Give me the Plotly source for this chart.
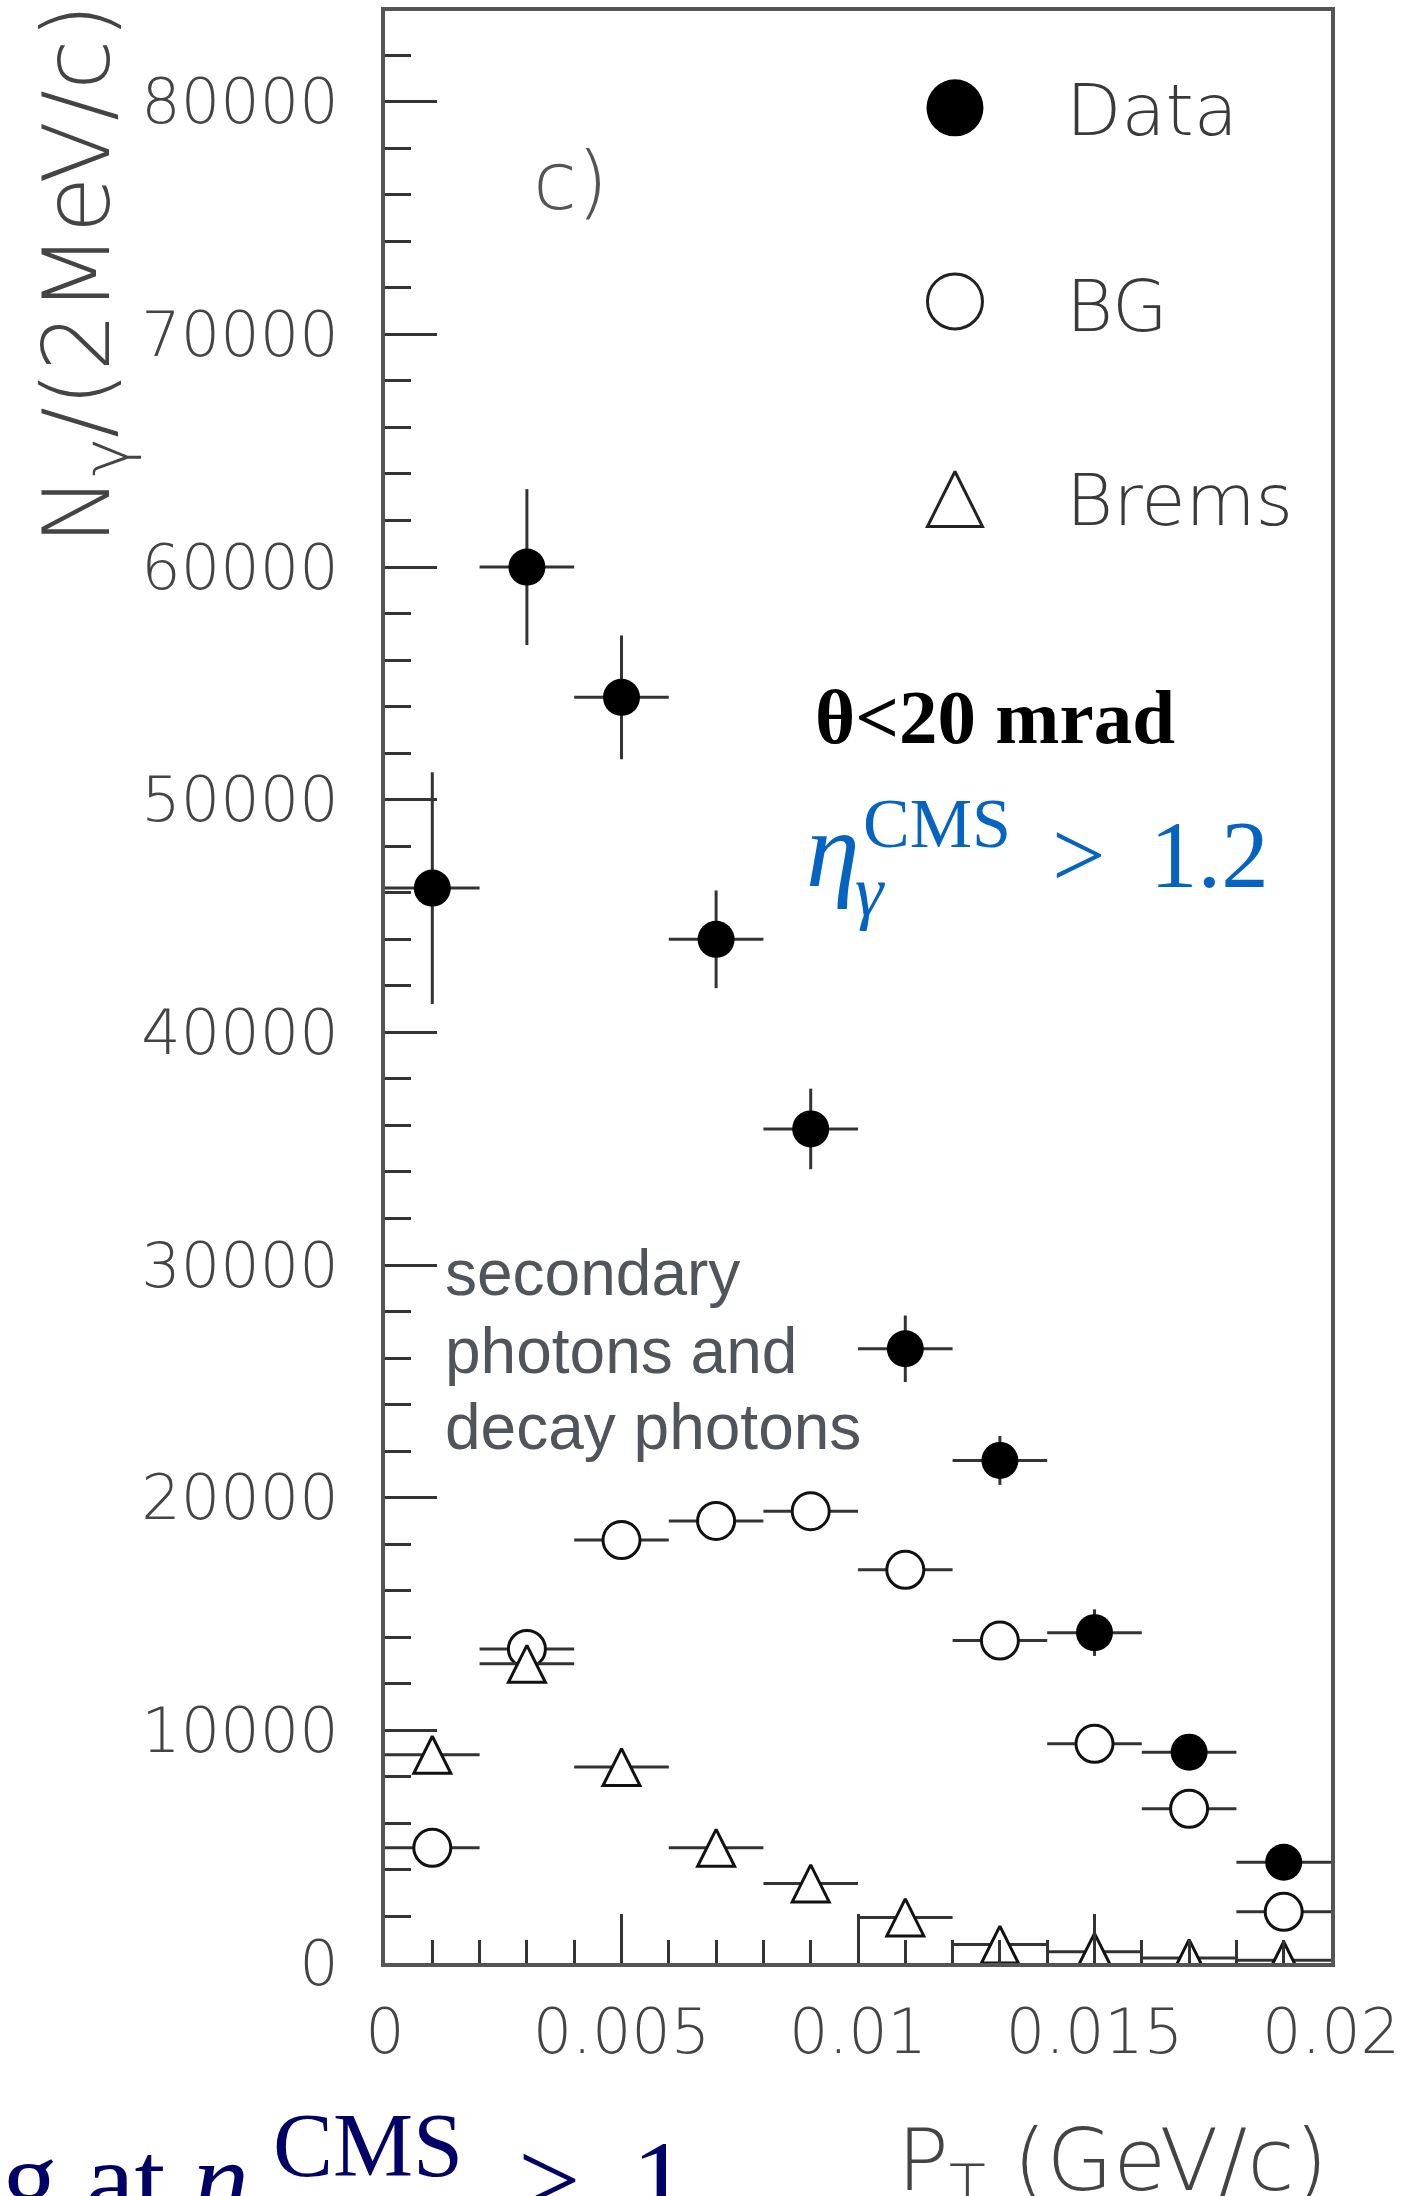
import plotly.graph_objects as go

# ---- measured photon spectrum, theta < 20 mrad ----
pt_centers = [0.001, 0.003, 0.005, 0.007, 0.009, 0.011, 0.013, 0.015, 0.017, 0.019]
pt_half_bin = 0.001

data_counts = [46200, 60000, 54400, 44000, 35850, 26400, 21600, 14200, 9060, 4330]
data_errors = [4980, 3350, 2660, 2100, 1730, 1430, 1050, 1000, 700, 500]
bg_counts = [4950, 13500, 18180, 19000, 19420, 16900, 13860, 9420, 6630, 2200]
brems_counts = [8950, 12860, 8420, 4950, 3420, 1960, 790, 480, 210, 120]

x_tick_vals = [0, 0.005, 0.01, 0.015, 0.02]
x_tick_text = ["0", "0.005", "0.01", "0.015", "0.02"]
y_tick_vals = [0, 10000, 20000, 30000, 40000, 50000, 60000, 70000, 80000]
y_tick_text = ["0", "10000", "20000", "30000", "40000", "50000", "60000", "70000", "80000"]

legend_names = ["Data", "BG", "Brems"]

# ---- page geometry (pixels) ----
W, H = 1409, 2196
PL, PR, PT, PB = 385, 1331, 7, 1963

DEJAVU = "DejaVu Sans"
SERIF = "Liberation Serif"
SANS = "Liberation Sans"
ASC = {DEJAVU: 0.928, SERIF: 0.891, SANS: 0.905}

INK = "#333333"
LABEL = "#444444"


def px(X):
    return (X - PL) / (PR - PL)


def py(Y):
    return (PB - Y) / (PB - PT)


def text_at(text, X, base, size, family, color, anchor="left", weight="normal", **kw):
    """Annotation whose first glyph starts (or ends) at X with its baseline at `base`."""
    top = base - ASC[family] * size - 2
    xx = X - 2 if anchor == "left" else X + 2
    return dict(text=text, x=px(xx), y=py(top), xref="paper", yref="paper",
                xanchor=anchor, yanchor="top", showarrow=False,
                font=dict(family=family, size=size, color=color, weight=weight), **kw)


fig = go.Figure()

ex = dict(type="constant", value=pt_half_bin, width=0, thickness=3, color=INK)

# background from secondary and decay photons
fig.add_trace(go.Scatter(
    x=pt_centers, y=bg_counts, mode="markers", name="BG",
    error_x=ex,
    marker=dict(symbol="circle", size=37, color="white", line=dict(color="#111", width=3)),
))

# bremsstrahlung photons (upward triangles centred on the point)
fig.add_trace(go.Scatter(
    x=pt_centers, y=brems_counts, mode="markers", name="Brems",
    error_x=ex,
    marker=dict(symbol="arrow-down", angle=180, standoff=18.5, size=37, color="white",
                line=dict(color="#111", width=3)),
))

# measured data
fig.add_trace(go.Scatter(
    x=pt_centers, y=data_counts, mode="markers", name="Data",
    error_x=ex,
    error_y=dict(type="data", array=data_errors, width=0, thickness=3, color=INK),
    marker=dict(symbol="circle", size=37, color="black", line=dict(width=0)),
))

# legend keys drawn on an overlay frame spanning the plot area
key_x = [0.6025, 0.6025, 0.6025]
key_y = [0.9504, 0.8512, 0.75]
fig.add_trace(go.Scatter(x=key_x[:1], y=key_y[:1], xaxis="x2", yaxis="y2", mode="markers",
                         marker=dict(symbol="circle", size=57, color="black", line=dict(width=0)),
                         hoverinfo="skip"))
fig.add_trace(go.Scatter(x=key_x[1:2], y=key_y[1:2], xaxis="x2", yaxis="y2", mode="markers",
                         marker=dict(symbol="circle", size=55, color="white", line=dict(color="#222", width=3)),
                         hoverinfo="skip"))
fig.add_trace(go.Scatter(x=key_x[2:], y=key_y[2:], xaxis="x2", yaxis="y2", mode="markers",
                         marker=dict(symbol="arrow-down", angle=180, standoff=27.5, size=55, color="white",
                                     line=dict(color="#222", width=3)),
                         hoverinfo="skip"))

axis_font = dict(family=DEJAVU, size=62, color=LABEL, weight=300)

fig.update_layout(
    width=W, height=H,
    margin=dict(l=PL, r=W - PR, t=PT, b=H - PB, pad=0),
    paper_bgcolor="white", plot_bgcolor="white",
    showlegend=False,
    xaxis=dict(
        range=[0, 0.02], tickmode="array", tickvals=x_tick_vals, ticktext=x_tick_text,
        ticks="inside", ticklen=49, tickwidth=3, tickcolor=INK,
        minor=dict(tickmode="array", tickvals=[i * 0.001 for i in range(21)],
                   ticks="inside", ticklen=23, tickwidth=3, tickcolor=INK, showgrid=False),
        showline=True, linewidth=4, linecolor="#555", mirror=True,
        showgrid=False, zeroline=False, tickfont=axis_font, ticklabelstandoff=12,
    ),
    yaxis=dict(
        range=[0, 83900], tickmode="array", tickvals=y_tick_vals, ticktext=y_tick_text,
        ticks="inside", ticklen=52, tickwidth=3, tickcolor=INK,
        minor=dict(tickmode="array", tickvals=[i * 2000 for i in range(42)],
                   ticks="inside", ticklen=26, tickwidth=3, tickcolor=INK, showgrid=False),
        showline=True, linewidth=4, linecolor="#555", mirror=True,
        showgrid=False, zeroline=False, tickfont=axis_font, ticklabelstandoff=30,
    ),
    xaxis2=dict(overlaying="x", range=[0, 1], visible=False),
    yaxis2=dict(overlaying="y", range=[0, 1], visible=False),
)

ann = []
# axis titles
ann.append(dict(text="N<sub>γ</sub>/(2MeV/c)", textangle=-90, x=px(83), y=py(-3),
                xref="paper", yref="paper", xanchor="center", yanchor="top", showarrow=False,
                font=dict(family=DEJAVU, size=92, color=LABEL, weight=300)))
ann.append(text_at("P<sub>T</sub> (GeV/c)", 1328, 2190, 86, DEJAVU, LABEL, anchor="right", weight=300))

# panel tag and legend labels
ann.append(text_at("c)", 533, 205, 80, DEJAVU, "#555", weight=300))
ann.append(text_at(legend_names[0], 1066, 131, 72, DEJAVU, "#3a3a3a", weight=300))
ann.append(text_at(legend_names[1], 1066, 327, 72, DEJAVU, "#3a3a3a", weight=300))
ann.append(text_at(legend_names[2], 1066, 522, 72, DEJAVU, "#3a3a3a", weight=300))

# cut labels
ann.append(text_at("θ<20 mrad", 815, 740, 77, SERIF, "black", weight="bold"))
BLUE = "#0563C1"
ann.append(text_at("<i>η</i>", 806, 884, 108, SERIF, BLUE))
ann.append(text_at("<i>γ</i>", 855, 914, 72, SERIF, BLUE))
ann.append(text_at("CMS", 863, 845, 70, SERIF, BLUE))
ann.append(text_at(">", 1052, 884, 95, SERIF, BLUE))
ann.append(text_at("1.2", 1150, 884, 95, SERIF, BLUE))

# note on the background source
GREY = "#50555c"
ann.append(text_at("secondary", 445, 1293, 64, SANS, GREY))
ann.append(text_at("photons and", 445, 1372, 64, SANS, GREY))
ann.append(text_at("decay photons", 445, 1448, 64, SANS, GREY))

# caption running off the lower edge
NAVY = "#000066"
ann.append(text_at("g at <i>η</i>", 2, 2217, 111, SERIF, NAVY))
ann.append(text_at("CMS", 273, 2176, 90, SERIF, NAVY))
ann.append(text_at(">", 518, 2217, 111, SERIF, NAVY))
ann.append(text_at("1", 632, 2217, 111, SERIF, NAVY))

fig.update_layout(annotations=ann)

fig.write_html("out.html")
